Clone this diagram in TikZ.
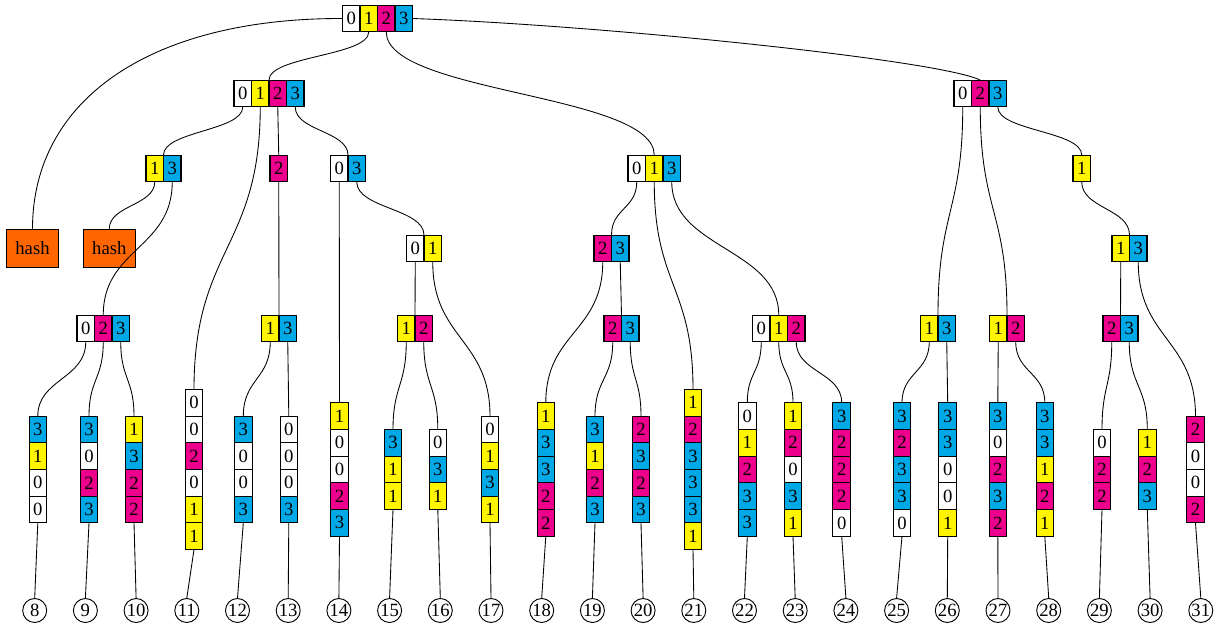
\documentclass[tikz,border=0pt]{standalone}
\usepackage{fontspec}
\setmainfont{Liberation Serif}
\usetikzlibrary{calc}
\definecolor{c0}{HTML}{FFFFFF}
\definecolor{c1}{HTML}{FFF500}
\definecolor{c2}{HTML}{EC008C}
\definecolor{c3}{HTML}{00A8E6}
\definecolor{hashorange}{HTML}{FF6600}
\tikzset{
  cell/.style={draw, line width=0.8pt, inner sep=0pt, outer sep=0pt,
    minimum width=13.125pt, minimum height=20.1pt,
    font=\fontsize{14}{16}\selectfont},
  hashbox/.style={draw, line width=0.8pt, fill=hashorange, inner sep=0pt,
    minimum width=39pt, minimum height=28.5pt, font=\fontsize{14}{16}\selectfont},
  num/.style={draw, circle, line width=0.7pt, minimum size=18pt, inner sep=0pt,
    font=\fontsize{14}{16}\selectfont},
  wire/.style={line width=0.65pt},
  link/.style={wire, to path={let \p1=(\tikztostart), \p2=(\tikztotarget) in
    .. controls (\x1,{0.5*\y1+0.5*\y2}) and (\x2,{0.5*\y1+0.5*\y2}) .. (\tikztotarget)}}
}
\newcommand\hrec[4]{\foreach \d [count=\i] in {#4} {\node[cell, fill=c\d] (#1-\i) at ({#2+(\i-0.5)*17.5},{#3+13.5}) {\d};}}
\newcommand\vstk[4]{\foreach \d [count=\i] in {#4} {\node[cell, fill=c\d] (#1-\i) at (#2,{469.5-#3*13.35+(\i-0.5)*26.7}) {\d};}}
\begin{document}
\begin{tikzpicture}[x=0.75pt, y=-0.75pt]
\useasboundingbox (0,0) rectangle (1218,629);
% records
\hrec{R}{342.5}{5}{0,1,2,3}
\hrec{A}{234}{80}{0,1,2,3}
\hrec{B}{954}{80}{0,2,3}
\hrec{C}{146}{155}{1,3}
\hrec{D}{270}{155}{2}
\hrec{E}{330.5}{155}{0,3}
\hrec{F}{628}{155}{0,1,3}
\hrec{G}{1073}{155}{1}
\hrec{H}{406.5}{235}{0,1}
\hrec{I}{594}{235}{2,3}
\hrec{J}{1112}{235}{1,3}
\hrec{K}{77}{315}{0,2,3}
\hrec{L}{261.5}{315}{1,3}
\hrec{M}{397.5}{315}{1,2}
\hrec{N}{604}{315}{2,3}
\hrec{O}{752.5}{315}{0,1,2}
\hrec{P}{920.5}{315}{1,3}
\hrec{Q}{989.5}{315}{1,2}
\hrec{T}{1103}{315}{2,3}
% hash boxes
\node[hashbox] (h1) at (32.5,248.3) {hash};
\node[hashbox] (h2) at (109.3,248.3) {hash};
% stacks
\vstk{s8}{37.8}{4}{3,1,0,0}
\vstk{s9}{89}{4}{3,0,2,3}
\vstk{s10}{134}{4}{1,3,2,2}
\vstk{s11}{194}{6}{0,0,2,0,1,1}
\vstk{s12}{243.3}{4}{3,0,0,3}
\vstk{s13}{288.8}{4}{0,0,0,3}
\vstk{s14}{339.5}{5}{1,0,0,2,3}
\vstk{s15}{393}{3}{3,1,1}
\vstk{s16}{437.8}{3}{0,3,1}
\vstk{s17}{490}{4}{0,1,3,1}
\vstk{s18}{545.8}{5}{1,3,3,2,2}
\vstk{s19}{595}{4}{3,1,2,3}
\vstk{s20}{641}{4}{2,3,2,3}
\vstk{s21}{693}{6}{1,2,3,3,3,1}
\vstk{s22}{747.3}{5}{0,1,2,3,3}
\vstk{s23}{793}{5}{1,2,0,3,1}
\vstk{s24}{841.7}{5}{3,2,2,2,0}
\vstk{s25}{902}{5}{3,2,3,3,0}
\vstk{s26}{947.7}{5}{3,3,0,0,1}
\vstk{s27}{997.8}{5}{3,0,2,3,2}
\vstk{s28}{1044.8}{5}{3,3,1,2,1}
\vstk{s29}{1102}{3}{0,2,2}
\vstk{s30}{1147.3}{3}{1,2,3}
\vstk{s31}{1195.5}{4}{2,0,0,2}
% numbered leaves
\foreach \k in {8,...,31} \node[num] (n\k) at ({34.7+(\k-8)*50.7},610.5) {\k};
\foreach \k/\m in {8/4,9/4,10/4,11/6,12/4,13/4,14/5,15/3,16/3,17/4,18/5,19/4,20/4,21/6,22/5,23/5,24/5,25/5,26/5,27/5,28/5,29/3,30/3,31/4}
  \draw[wire] (s\k-\m.south) -- (n\k.north);
% root edges
\draw[wire] (R-1.west) .. controls (150,18) and (32.5,100) .. (h1.north);
\draw[link] (R-2.south) to (A-2.north east);
\draw[link] (R-3.south) to (F-2.north);
\draw[wire] (R-4.east) .. controls (600,25) and (940,60) .. (B-2.north);
% A
\draw[link] (A-1.south) to (C-1.north east);
\draw[link] (A-2.south) to (s11-1.north);
\draw[link] (A-3.south) to (D-1.north);
\draw[link] (A-4.south) to (E-1.north east);
% C, D, E
\draw[link] (C-1.south) to (h2.north);
\draw[link] (C-2.south) to (K-2.north);
\draw[link] (D-1.south) to (L-1.north east);
\draw[link] (E-1.south) to (s14-1.north);
\draw[link] (E-2.south) to (H-1.north east);
% H, M
\draw[link] (H-1.south) to (M-1.north east);
\draw[link] (H-2.south) to (s17-1.north);
\draw[link] (M-1.south) to (s15-1.north);
\draw[link] (M-2.south) to (s16-1.north);
% F, I, N, O
\draw[link] (F-1.south) to (I-1.north east);
\draw[link] (F-2.south) to (s21-1.north);
\draw[link] (F-3.south) to (O-2.north);
\draw[link] (I-1.south) to (s18-1.north);
\draw[link] (I-2.south) to (N-1.north east);
\draw[link] (N-1.south) to (s19-1.north);
\draw[link] (N-2.south) to (s20-1.north);
\draw[link] (O-1.south) to (s22-1.north);
\draw[link] (O-2.south) to (s23-1.north);
\draw[link] (O-3.south) to (s24-1.north);
% B, G, J, T, P, Q
\draw[link] (B-1.south) to (P-1.north east);
\draw[link] (B-2.south) to (Q-1.north east);
\draw[link] (B-3.south) to (G-1.north);
\draw[link] (G-1.south) to (J-1.north east);
\draw[link] (J-1.south) to (T-1.north east);
\draw[link] (J-2.south) to (s31-1.north);
\draw[link] (T-1.south) to (s29-1.north);
\draw[link] (T-2.south) to (s30-1.north);
\draw[link] (P-1.south) to (s25-1.north);
\draw[link] (P-2.south) to (s26-1.north);
\draw[link] (Q-1.south) to (s27-1.north);
\draw[link] (Q-2.south) to (s28-1.north);
% K, L
\draw[link] (K-1.south) to (s8-1.north);
\draw[link] (K-2.south) to (s9-1.north);
\draw[link] (K-3.south) to (s10-1.north);
\draw[link] (L-1.south) to (s12-1.north);
\draw[link] (L-2.south) to (s13-1.north);
\end{tikzpicture}
\end{document}
